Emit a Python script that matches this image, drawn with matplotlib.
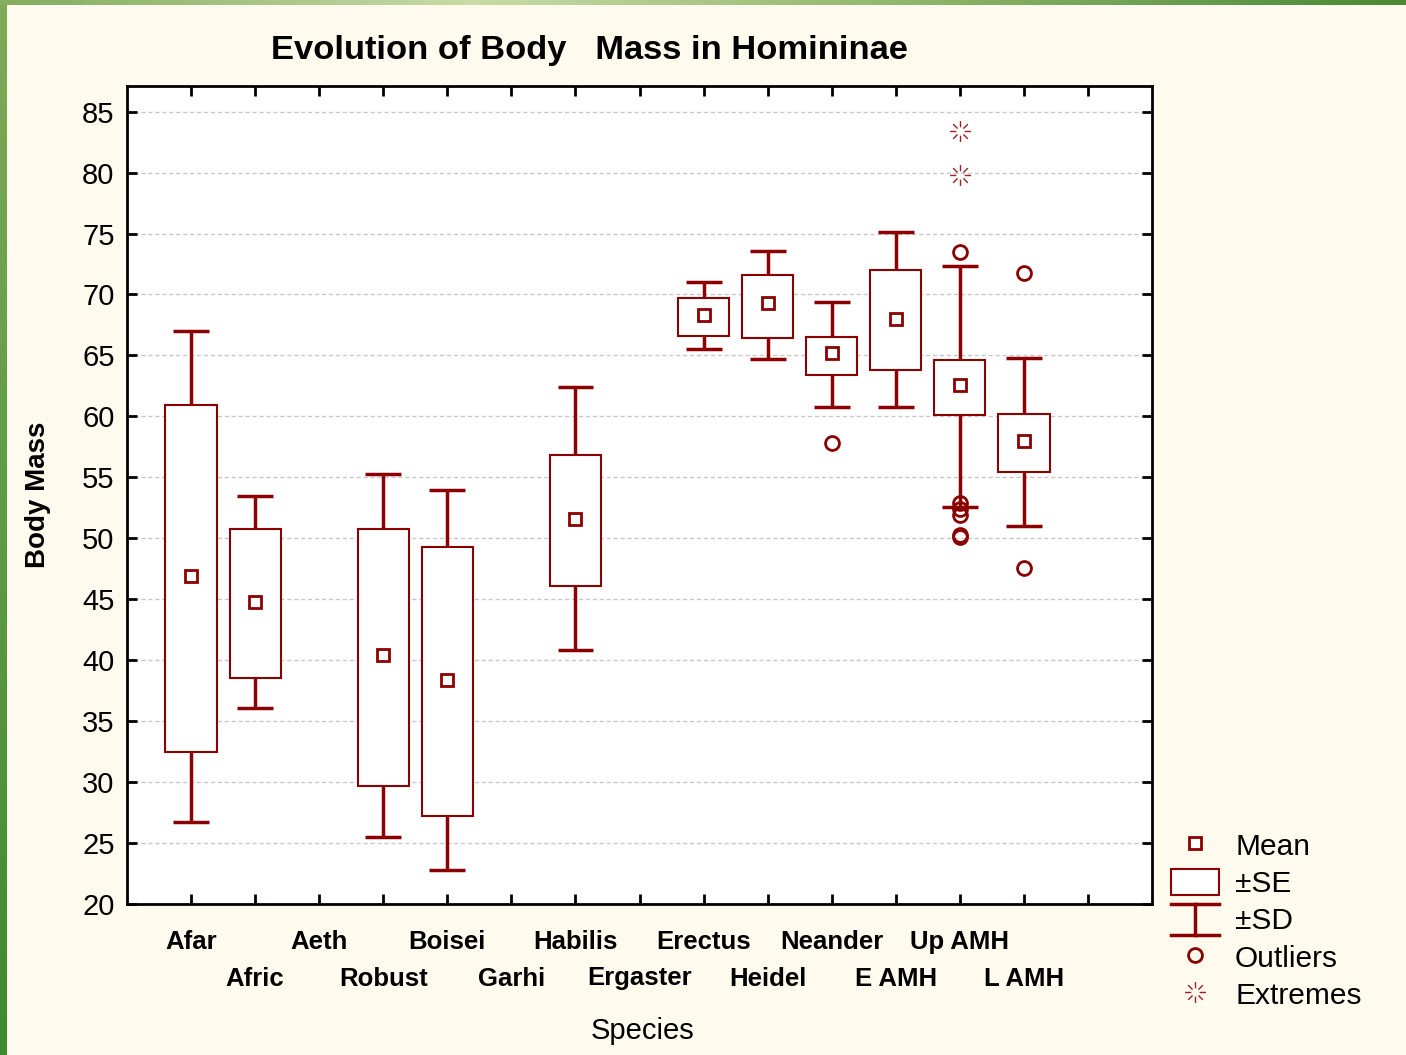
import numpy as np
import matplotlib
matplotlib.use('Agg')
import matplotlib.pyplot as plt
from matplotlib.lines import Line2D
from matplotlib.patches import Patch
from matplotlib.path import Path
from matplotlib.legend_handler import HandlerBase

species = ['Afar', 'Afric', 'Aeth', 'Robust', 'Boisei', 'Garhi', 'Habilis',
           'Ergaster', 'Erectus', 'Heidel', 'Neander', 'E AMH', 'Up AMH', 'L AMH']
nan = np.nan
mean  = [46.9, 44.8, nan, 40.4, 38.4, nan, 51.6, nan, 68.3, 69.3, 65.2, 68.0, 62.6, 58.0]
se_lo = [32.5, 38.5, nan, 29.7, 27.2, nan, 46.1, nan, 66.6, 66.4, 63.4, 63.8, 60.1, 55.4]
se_hi = [60.9, 50.8, nan, 50.8, 49.3, nan, 56.8, nan, 69.75, 71.6, 66.5, 72.0, 64.6, 60.2]
sd_lo = [26.7, 36.1, nan, 25.5, 22.8, nan, 40.8, nan, 65.5, 64.7, 60.8, 60.8, 52.6, 51.0]
sd_hi = [67.0, 53.5, nan, 55.3, 54.0, nan, 62.4, nan, 71.0, 73.6, 69.4, 75.1, 72.3, 64.8]

outlier_species = ['Neander', 'Up AMH', 'Up AMH', 'Up AMH', 'Up AMH', 'Up AMH', 'Up AMH',
                   'L AMH', 'L AMH']
outlier_values = [57.8, 73.5, 52.9, 52.4, 51.9, 50.3, 50.1, 71.8, 47.6]
extreme_species = ['Up AMH', 'Up AMH']
extreme_values = [83.4, 79.8]

RED = '#8B0000'
BG = '#FFFAEE'

# star marker with a hollow centre for the extremes
verts, codes = [], []
for a in np.arange(8) * np.pi / 4:
    verts += [(0.4 * np.cos(a), 0.4 * np.sin(a)), (np.cos(a), np.sin(a))]
    codes += [Path.MOVETO, Path.LINETO]
star = Path(verts, codes)


class SDHandle:
    pass


class HandlerIBeam(HandlerBase):
    def create_artists(self, legend, orig_handle, xdescent, ydescent,
                       width, height, fontsize, trans):
        x0, x1 = -xdescent, -xdescent + width
        y0, y1 = -ydescent - 2, -ydescent + height + 2
        xm = (x0 + x1) / 2
        arts = [Line2D([x0, x1], [y1, y1]), Line2D([x0, x1], [y0, y0]),
                Line2D([xm, xm], [y0, y1])]
        for a in arts:
            a.set_color(RED)
            a.set_linewidth(2.5)
            a.set_transform(trans)
        return arts


plt.rcParams['font.family'] = ['Liberation Sans', 'DejaVu Sans']

fig = plt.figure(figsize=(14.06, 10.55), dpi=100, facecolor=BG)

# green frame on the left and top
left = fig.add_axes([0, 0, 7 / 1406, 1])
left.imshow(np.linspace(0, 1, 100).reshape(-1, 1), aspect='auto',
            cmap=matplotlib.colors.LinearSegmentedColormap.from_list('g', ['#7FAA58', '#3F8A30']),
            extent=[0, 1, 0, 1], origin='upper')
left.axis('off')
top = fig.add_axes([0, 1 - 5 / 1055, 1, 5 / 1055])
top.imshow(np.linspace(0, 1, 100).reshape(1, -1), aspect='auto',
           cmap=matplotlib.colors.LinearSegmentedColormap.from_list(
               'g2', ['#84AD5E', '#C8DBA8', '#8DB466', '#4A8A35']),
           extent=[0, 1, 0, 1])
top.axis('off')

ax = fig.add_axes([127 / 1406, 151 / 1055, 1025 / 1406, 818 / 1055])
ax.set_facecolor('white')

x = np.arange(1, len(species) + 1)
pos = dict(zip(species, x))

ax.vlines(x, sd_lo, sd_hi, color=RED, lw=2.5, zorder=2)
ax.hlines(sd_lo, x - 0.28, x + 0.28, color=RED, lw=2.5, zorder=2)
ax.hlines(sd_hi, x - 0.28, x + 0.28, color=RED, lw=2.5, zorder=2)
ax.bar(x, np.array(se_hi) - np.array(se_lo), bottom=se_lo, width=0.8,
       facecolor='white', edgecolor=RED, lw=1.5, zorder=3)
ax.plot(x, mean, 's', ms=9, mfc='white', mec=RED, mew=2, zorder=4)
ax.plot([pos[s] for s in outlier_species], outlier_values, 'o', ms=10,
        mfc='none', mec=RED, mew=2, zorder=4)
ax.plot([pos[s] for s in extreme_species], extreme_values, ls='none', marker=star,
        ms=15, mec='#A02020', mew=1.0, zorder=4)

ax.set_xlim(0, 16)
ax.set_ylim(20, 87.1)
ax.set_yticks(np.arange(20, 90, 5))
ax.set_xticks(np.arange(1, 16))
ax.set_xticklabels(species + [''])
ax.grid(axis='y', color='#C8C8C8', ls=(0, (3, 2)), lw=1)
ax.set_axisbelow(True)

ax.tick_params(direction='in', length=7, width=2, top=True, right=True,
               labelsize=21, pad=9)
for sp in ax.spines.values():
    sp.set_linewidth(2)

for i, t in enumerate(ax.xaxis.get_major_ticks()):
    t.set_pad(19 if i % 2 == 0 else 45)
for lab in ax.get_xticklabels():
    lab.set_fontweight('bold')
    lab.set_fontsize(18.5)

fig.text(271 / 1406, 1 - 50 / 1055, 'Evolution of Body   Mass in Homininae',
         ha='left', va='center', fontsize=24.8, fontweight='bold')
fig.text(38 / 1406, 1 - 495 / 1055, 'Body Mass', rotation=90, ha='center',
         va='center', fontsize=20, fontweight='bold')
fig.text(643 / 1406, 1 - 1031 / 1055, 'Species', ha='center', va='center',
         fontsize=21)

handles = [
    Line2D([], [], ls='none', marker='s', ms=9, mfc='white', mec=RED, mew=2),
    Patch(facecolor='white', edgecolor=RED, lw=1.5),
    SDHandle(),
    Line2D([], [], ls='none', marker='o', ms=10, mfc='none', mec=RED, mew=2),
    Line2D([], [], ls='none', marker=star, ms=15, mec='#A02020', mew=1.0),
]
labels = ['Mean', '\u00b1SE', '\u00b1SD', 'Outliers', 'Extremes']
fig.legend(handles, labels, handler_map={SDHandle: HandlerIBeam()},
           loc='upper left', bbox_to_anchor=(1150 / 1406, 1 - 811 / 1055),
           frameon=False, fontsize=21.5, handlelength=1.6, handleheight=0.95,
           labelspacing=0.27, handletextpad=0.55, borderpad=0.2)

fig.savefig('out.png', dpi=100, facecolor=BG)
